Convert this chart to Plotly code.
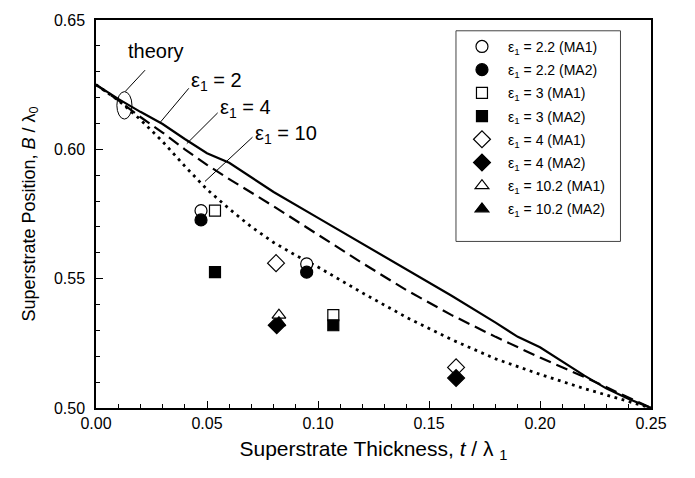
import plotly.graph_objects as go

# ---- theory curves ----
t_e2 = [0, 0.01, 0.02, 0.03, 0.04, 0.05, 0.06, 0.07, 0.08, 0.10, 0.12, 0.14, 0.16, 0.18, 0.19, 0.20, 0.21, 0.22, 0.23, 0.24, 0.25]
b_e2 = [0.625, 0.6195, 0.6145, 0.6098, 0.604, 0.5985, 0.5948, 0.589, 0.5835, 0.5735, 0.5635, 0.5535, 0.5435, 0.533, 0.5275, 0.5235, 0.518, 0.5125, 0.5075, 0.5035, 0.500]
t_e4 = [0, 0.01, 0.02, 0.03, 0.04, 0.05, 0.06, 0.08, 0.10, 0.12, 0.14, 0.16, 0.18, 0.20, 0.22, 0.24, 0.25]
b_e4 = [0.625, 0.619, 0.6125, 0.6065, 0.600, 0.594, 0.5885, 0.578, 0.567, 0.556, 0.5455, 0.536, 0.5275, 0.5195, 0.512, 0.504, 0.500]
t_e10 = [0, 0.01, 0.02, 0.03, 0.04, 0.05, 0.06, 0.07, 0.08, 0.09, 0.10, 0.12, 0.14, 0.16, 0.18, 0.20, 0.22, 0.24, 0.25]
b_e10 = [0.625, 0.619, 0.6115, 0.603, 0.5935, 0.5845, 0.577, 0.570, 0.564, 0.559, 0.5545, 0.5445, 0.535, 0.5265, 0.519, 0.513, 0.5075, 0.5025, 0.500]

# ---- measured points ----
labels = ["2.2 (MA1)", "2.2 (MA2)", "3 (MA1)", "3 (MA2)", "4 (MA1)", "4 (MA2)", "10.2 (MA1)", "10.2 (MA2)"]
pts_t = [[0.0473, 0.0949], [0.0473, 0.0949], [0.0536, 0.1069], [0.0536, 0.1069],
         [0.0811, 0.1622], [0.0814, 0.1622], [0.0824], [0.0824]]
pts_b = [[0.5763, 0.5557], [0.5727, 0.5525], [0.5763, 0.5359], [0.5525, 0.5320],
         [0.5560, 0.5157], [0.5320, 0.5116], [0.5359], [0.5330]]
symbols = ["circle", "circle", "square", "square", "diamond", "diamond", "triangle-up", "triangle-up"]
filled = [False, True, False, True, False, True, False, True]
sizes = [12, 12, 11, 11, 13, 13, 12, 12]

FONT = "Arial, Liberation Sans, sans-serif"
fig = go.Figure()

for t, b, dash, w in [(t_e2, b_e2, "solid", 2.2), (t_e4, b_e4, "12px,6px", 2.2), (t_e10, b_e10, "2.8px,4.6px", 2.8)]:
    fig.add_trace(go.Scatter(x=t, y=b, mode="lines", showlegend=False, hoverinfo="skip",
                             line=dict(color="black", width=w, dash=dash)))

for i in range(len(labels)):
    fig.add_trace(go.Scatter(
        x=pts_t[i], y=pts_b[i], mode="markers",
        name="ε<sub>1</sub> = " + labels[i], legendgroup="g%d" % i,
        marker=dict(symbol=symbols[i], size=sizes[i],
                    color="black" if filled[i] else "white",
                    line=dict(color="black", width=1.2))))

# annotation leader lines and ellipse (data coordinates)
lines = [
    ((0.0131, 0.6223), (0.0221, 0.6306)),
    ((0.0288, 0.6103), (0.0418, 0.6236)),
    ((0.0409, 0.6022), (0.0548, 0.6141)),
    ((0.0491, 0.5876), (0.0705, 0.6047)),
]
for (x0, y0), (x1, y1) in lines:
    fig.add_shape(type="line", x0=x0, y0=y0, x1=x1, y1=y1, xref="x", yref="y",
                  line=dict(color="black", width=1))
fig.add_shape(type="circle", x0=0.0094, x1=0.0162, y0=0.6117, y1=0.6223, xref="x", yref="y",
              line=dict(color="black", width=1))

texts = [("theory", 0.0136, 0.6382), ("ε<sub>1</sub> = 2", 0.0420, 0.6262),
         ("ε<sub>1</sub> = 4", 0.0550, 0.6158), ("ε<sub>1</sub> = 10", 0.0707, 0.6056)]
for txt, x, y in texts:
    fig.add_annotation(x=x, y=y, text=txt, showarrow=False, xanchor="left", yanchor="middle",
                       font=dict(family=FONT, size=20, color="black"))

# legend frame
fig.add_shape(type="rect", xref="paper", yref="paper", x0=0.6486, x1=0.945, y0=0.4293, y1=0.9722,
              line=dict(color="#444", width=1), fillcolor="rgba(0,0,0,0)", layer="above")

axis_common = dict(showline=True, linecolor="black", linewidth=1.5, mirror=True,
                   ticks="inside", ticklen=7, tickwidth=1, tickcolor="black",
                   showgrid=False, zeroline=False,
                   tickfont=dict(family=FONT, size=16, color="black"),
                   minor=dict(ticks="inside", ticklen=4, tickwidth=1, tickcolor="black"))

fig.update_xaxes(range=[0, 0.25], tickmode="linear", tick0=0, dtick=0.05, tickformat=".2f",
                 minor_dtick=0.01,
                 title=dict(text="Superstrate Thickness, <i>t</i> / λ <sub>1</sub>",
                            font=dict(family=FONT, size=21, color="black"), standoff=10),
                 **axis_common)
fig.update_yaxes(range=[0.50, 0.65], tickmode="linear", tick0=0.5, dtick=0.05, tickformat=".2f",
                 minor_dtick=0.01, ticklabelstandoff=6,
                 title=dict(text="Superstrate Position, <i>B</i> / λ<sub>0</sub>",
                            font=dict(family=FONT, size=18, color="black"), standoff=14),
                 **axis_common)

fig.update_layout(
    width=695, height=478,
    margin=dict(l=96, r=44, t=12, b=70),
    paper_bgcolor="white", plot_bgcolor="white",
    legend=dict(x=0.6486, y=0.972, xanchor="left", yanchor="top",
                borderwidth=0, bgcolor="rgba(255,255,255,0)",
                font=dict(family=FONT, size=14, color="black"),
                tracegroupgap=2, itemwidth=42, indentation=0),
)

fig.write_html("out.html")
